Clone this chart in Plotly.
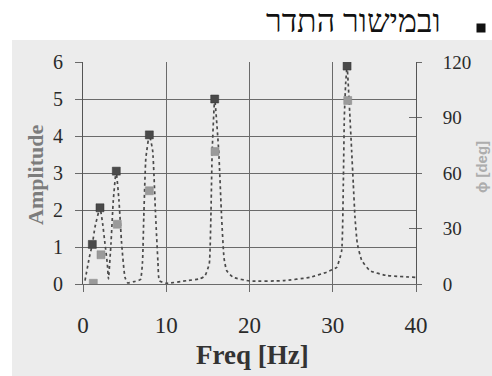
import plotly.graph_objects as go

# ---- data ----
amp_freq = [1.12, 2.04, 4.0, 7.97, 15.82, 31.72]
amp_vals = [1.07, 2.06, 3.05, 4.03, 5.0, 5.89]

phase_freq = [1.24, 2.16, 4.12, 7.97, 15.86, 31.8]
phase_vals = [0.4, 15.8, 32.3, 50.4, 71.6, 99.2]

curve_freq = [0.24, 0.76, 1.12, 1.44, 2.04, 2.36, 2.64, 2.92, 3.06,
              3.36, 3.64, 3.98, 4.32, 4.64, 5.04, 5.37, 6.05, 6.9,
              7.15, 7.3, 7.55, 7.97, 8.37, 8.73, 9.0, 9.17,
              10.05, 12.45, 14.05, 14.65,
              15.17, 15.36, 15.52, 15.82, 16.3, 16.65, 16.94, 17.26, 18.05, 20.06,
              24.06, 27.27, 29.27, 30.47,
              31.07, 31.27, 31.39, 31.55, 31.72, 32.07, 32.27, 32.47, 32.67, 32.95,
              33.48, 34.47, 36.48, 40.0]
curve_amp = [0.09, 0.72, 1.07, 1.54, 2.06, 1.63, 1.09, 0.55, 0.14,
             1.09, 2.26, 3.05, 2.26, 1.09, 0.18, 0.03, 0.06, 0.12,
             0.6, 1.8, 3.4, 4.03, 3.6, 1.8, 0.6, 0.09,
             0.02, 0.09, 0.14, 0.22,
             0.55, 1.8, 3.6, 5.0, 3.6, 1.8, 0.7, 0.36, 0.18, 0.08,
             0.09, 0.18, 0.32, 0.45,
             0.9, 2.7, 4.5, 5.41, 5.89, 4.5, 3.6, 2.7, 1.8, 1.09,
             0.64, 0.36, 0.23, 0.18]

x_ticks = [0, 10, 20, 30, 40]
y_ticks = [0, 1, 2, 3, 4, 5, 6]
y2_ticks = [0, 30, 60, 90, 120]

title_text = "ובמישור התדר"
x_title = "Freq [Hz]"
y_title = "Amplitude"
y2_title = "ϕ [deg]"

# ---- layout geometry (pixels) ----
W, H = 492, 376
L, R, T, B = 83, 76, 62, 92
PW, PH = W - L - R, H - T - B


def px_x(px):
    return (px - L) / PW


def px_y(py):
    return (H - B - py) / PH


serif = "Liberation Serif, Times New Roman, serif"
grid_col = "#6a6a6a"
panel_col = "#ececec"

fig = go.Figure()

fig.add_trace(go.Scatter(
    x=curve_freq, y=curve_amp, mode="lines",
    line=dict(color="#4a4a4a", width=1.7, dash="dot", shape="spline", smoothing=0.4),
    showlegend=False, hoverinfo="skip"))

fig.add_trace(go.Scatter(
    x=phase_freq, y=phase_vals, mode="markers", yaxis="y2",
    marker=dict(symbol="square", size=8, color="#9a9a9a",
                line=dict(color="#8a8a8a", width=0.5)),
    showlegend=False))

fig.add_trace(go.Scatter(
    x=amp_freq, y=amp_vals, mode="markers",
    marker=dict(symbol="square", size=8, color="#4a4a4a",
                line=dict(color="#333333", width=0.5)),
    showlegend=False))

# invisible trace to activate y3 (outer tick marks for the right axis)
fig.add_trace(go.Scatter(x=[None], y=[None], yaxis="y3", showlegend=False))

fig.update_layout(
    width=W, height=H,
    margin=dict(l=L, r=R, t=T, b=B),
    paper_bgcolor="white",
    plot_bgcolor=panel_col,
    xaxis=dict(range=[0, 40], tickvals=x_ticks, showgrid=True, gridcolor=grid_col,
               gridwidth=1, zeroline=False, showline=True, linecolor=grid_col,
               ticks="outside", ticklen=7, tickcolor=grid_col,
               tickfont=dict(family=serif, size=23, color="#2a2a2a"),
               ticklabelstandoff=13, fixedrange=True),
    yaxis=dict(range=[0, 6], tickvals=y_ticks, showgrid=True, gridcolor=grid_col,
               gridwidth=1, zeroline=False, showline=True, linecolor="#555555",
               ticks="outside", ticklen=7, tickcolor=grid_col,
               tickfont=dict(family=serif, size=20, color="#2a2a2a"),
               ticklabelstandoff=8, fixedrange=True),
    yaxis2=dict(range=[0, 120], tickvals=y2_ticks, overlaying="y", side="right",
                showgrid=False, zeroline=False, showline=True, linecolor="#555555",
                ticks="inside", ticklen=7, tickcolor=grid_col,
                tickfont=dict(family=serif, size=19, color="#2a2a2a"),
                ticklabelstandoff=22, fixedrange=True),
    yaxis3=dict(range=[0, 120], tickvals=y2_ticks, overlaying="y", side="right",
                showgrid=False, zeroline=False, showline=False,
                ticks="outside", ticklen=5, tickcolor=grid_col,
                showticklabels=False, fixedrange=True),
    shapes=[
        dict(type="rect", xref="paper", yref="paper",
             x0=px_x(12), x1=px_x(W + 2), y0=px_y(H + 2), y1=px_y(40),
             fillcolor=panel_col, line=dict(width=0), layer="below"),
        dict(type="rect", xref="paper", yref="paper",
             x0=px_x(476.5), x1=px_x(485.5), y0=px_y(32.5), y1=px_y(23.5),
             fillcolor="#111111", line=dict(width=0), layer="above"),
    ],
    annotations=[
        dict(text=title_text, xref="paper", yref="paper", x=px_x(443), y=px_y(21),
             xanchor="right", yanchor="middle", showarrow=False,
             font=dict(family=serif, size=32, color="#111111")),
        dict(text="<b>" + y_title + "</b>", xref="paper", yref="paper",
             x=px_x(35), y=px_y(175), xanchor="center", yanchor="middle",
             textangle=-90, showarrow=False,
             font=dict(family=serif, size=22, color="#7c7c7c")),
        dict(text="<b>" + x_title + "</b>", xref="paper", yref="paper",
             x=px_x(252), y=px_y(355), xanchor="center", yanchor="middle",
             showarrow=False, font=dict(family=serif, size=27, color="#333333")),
        dict(text="<b>" + y2_title + "</b>", xref="paper", yref="paper",
             x=px_x(481), y=px_y(167), xanchor="center", yanchor="middle",
             textangle=-90, showarrow=False,
             font=dict(family="Liberation Sans, Arial, sans-serif", size=15, color="#adadad")),
    ],
)

fig.write_html("out.html",
               config={"displayModeBar": False, "staticPlot": True},
               post_script="document.body.style.margin='0';document.body.style.overflow='hidden';")
